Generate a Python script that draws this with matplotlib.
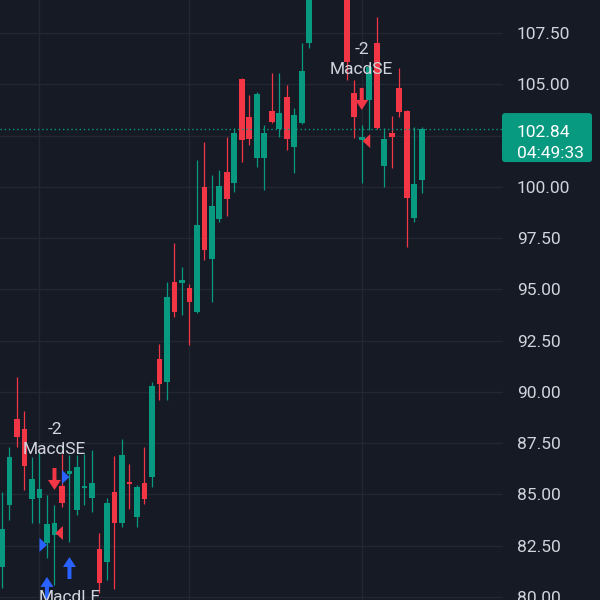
import matplotlib
matplotlib.use("Agg")
import matplotlib.pyplot as plt
from matplotlib.patches import Polygon, FancyBboxPatch
from matplotlib.transforms import Affine2D, ScaledTranslation, blended_transform_factory

# ---- OHLC series (one bar per session) ----
opens = [81.46, 84.49, 88.68, 88.19, 84.78, 84.83, 82.63, 83.02, 85.41, 86.00,
         84.24, 85.31, 84.83, 82.34, 81.71, 85.12, 83.61, 85.61, 83.90, 85.56,
         85.85, 91.60, 90.48, 95.36, 95.31, 95.07, 93.90, 99.99, 96.48, 98.43,
         100.72, 100.19, 105.26, 103.40, 101.41, 101.41, 103.70, 102.82, 104.38, 101.94,
         103.11, 107.01, 109.60, 110.20, 109.90, 110.40, 109.80, 104.57, 102.28, 104.23,
         107.01, 101.02, 102.62, 104.82, 103.70, 98.48, 100.33]
highs = [85.12, 87.31, 90.73, 89.07, 86.83, 87.07, 84.97, 84.49, 86.97, 86.92,
         86.92, 86.97, 87.17, 83.12, 84.83, 86.88, 87.70, 86.49, 85.46, 87.31,
         90.48, 92.34, 95.36, 97.26, 96.09, 95.26, 101.31, 102.19, 100.58, 100.82,
         102.43, 102.87, 105.30, 104.48, 104.62, 103.01, 105.55, 105.55, 104.96, 103.84,
         107.01, 109.90, 110.50, 110.90, 110.60, 110.70, 110.10, 105.21, 103.01, 105.94,
         108.28, 102.87, 103.45, 105.79, 103.75, 102.92, 102.90]
lows = [80.44, 83.75, 87.31, 85.22, 83.61, 83.61, 81.90, 80.59, 84.39, 82.68,
        84.00, 84.49, 84.14, 80.20, 80.83, 80.39, 83.41, 84.29, 83.41, 84.53,
        85.36, 89.61, 89.61, 93.65, 93.75, 92.29, 93.85, 96.43, 94.38, 98.28,
        98.58, 99.75, 101.21, 102.04, 100.97, 99.84, 103.11, 102.43, 101.80, 100.67,
        103.05, 106.77, 109.30, 109.70, 109.40, 109.50, 105.21, 102.38, 100.19, 102.77,
        102.84, 99.99, 100.92, 103.40, 97.07, 98.28, 99.70]
closes = [83.32, 86.83, 87.80, 86.39, 85.75, 85.27, 83.56, 83.61, 84.58, 86.14,
          86.34, 85.41, 85.56, 80.68, 84.58, 83.61, 86.92, 85.51, 85.36, 84.78,
          90.29, 90.39, 94.63, 93.90, 95.46, 94.38, 98.14, 96.92, 99.06, 100.04,
          99.41, 102.62, 102.28, 102.33, 104.53, 102.62, 103.16, 103.60, 102.33, 103.50,
          105.65, 109.60, 110.20, 109.90, 110.40, 109.80, 106.09, 103.40, 102.43, 105.84,
          102.87, 102.33, 102.43, 103.65, 99.45, 100.14, 102.84]

# ---- strategy signals ----
short_entry_idx = [7, 48]
short_entry_price = [85.22, 103.75]
long_entry_idx = [9, 6]
long_entry_price = [81.95, 80.98]
long_exit_idx = [5, 8]
long_exit_price = [82.54, 85.85]
short_exit_idx = [7, 48]
short_exit_price = [83.12, 102.23]

price_ticks = [80.0, 82.5, 85.0, 87.5, 90.0, 92.5, 95.0, 97.5, 100.0, 102.5, 105.0, 107.5]
time_gridlines = [5, 25, 48]
countdown = "04:49:33"

BG = "#161a25"
GRID = "#232733"
UP = "#089981"
DOWN = "#f23645"
BLUE = "#2962ff"
TEXT = "#d1d4dc"
FS = 12.5

plt.rcParams["font.family"] = ["Roboto", "DejaVu Sans"]

fig = plt.figure(figsize=(6, 6), dpi=100, facecolor=BG)
ax = fig.add_axes([0, 0, 503 / 600, 1])
ax.set_facecolor(BG)
ax.set_axisbelow(True)

n = len(closes)
xs = list(range(n))
colors = [UP if c >= o else DOWN for o, c in zip(opens, closes)]
bottoms = [min(o, c) for o, c in zip(opens, closes)]
heights = [max(abs(c - o), 0.06) for o, c in zip(opens, closes)]

ax.vlines(xs, lows, highs, colors=colors, linewidth=0.9, zorder=3)
ax.bar(xs, heights, bottom=bottoms, width=0.76, color=colors, linewidth=0, zorder=4)

last = closes[-1]
ax.axhline(last, color=UP, linestyle=(0, (1, 2)), linewidth=1, zorder=5)

# grid & price scale; the scale label under the last-price tag stays hidden
ax.set_yticks(price_ticks)
ax.set_yticklabels(["" if abs(v - last) < 1.0 else f"{v:.2f}" for v in price_ticks])
ax.set_xticks(time_gridlines)
ax.set_xticklabels([])
ax.grid(True, color=GRID, linewidth=1)
ax.yaxis.tick_right()
ax.tick_params(axis="y", length=0, pad=10, labelsize=FS, labelcolor=TEXT)
ax.tick_params(axis="x", length=0)
for s in ax.spines.values():
    s.set_visible(False)


def shape(xi, price, verts, color):
    tr = Affine2D() + ScaledTranslation(xi, price, ax.transData)
    ax.add_artist(Polygon(verts, closed=True, transform=tr, fc=color, ec="none",
                          zorder=7, clip_on=False))


down_arrow = [(0, 0), (-6.5, 10), (-2, 10), (-2, 22), (2, 22), (2, 10), (6.5, 10)]
up_arrow = [(vx, -vy) for vx, vy in down_arrow]
right_tri = [(0, -7), (0, 7), (7.5, 0)]
left_tri = [(1, 0), (8.5, 7), (8.5, -7)]

for i, p in zip(short_entry_idx, short_entry_price):
    shape(i, p, down_arrow, DOWN)
    ax.annotate("-2", xy=(i, p), xytext=(0, 56 * 0.72), textcoords="offset points",
                ha="center", va="baseline", fontsize=FS, color=TEXT, zorder=8,
                annotation_clip=False)
    ax.annotate("MacdSE", xy=(i, p), xytext=(0, 36 * 0.72), textcoords="offset points",
                ha="center", va="baseline", fontsize=FS, color=TEXT, zorder=8,
                annotation_clip=False)

for i, p in zip(long_entry_idx, long_entry_price):
    shape(i, p, up_arrow, BLUE)
ax.annotate("MacdLE", xy=(long_entry_idx[0], long_entry_price[0]),
            xytext=(0, -45 * 0.72), textcoords="offset points",
            ha="center", va="baseline", fontsize=FS, color=TEXT, zorder=8,
            annotation_clip=False)

for i, p in zip(long_exit_idx, long_exit_price):
    shape(i, p, right_tri, BLUE)
for i, p in zip(short_exit_idx, short_exit_price):
    shape(i, p, left_tri, DOWN)

# last-price tag on the price scale
blend = blended_transform_factory(fig.transFigure, ax.transData)
tag_tr = Affine2D() + ScaledTranslation(0, last, blend)
ax.add_artist(FancyBboxPatch((502, -33.5), 90, 49, boxstyle="round,pad=0,rounding_size=3",
                             transform=tag_tr, fc=UP, ec="none", zorder=9, clip_on=False))
ax.annotate(f"{last:.2f}", xy=(517 / 600, last), xycoords=("figure fraction", "data"),
            xytext=(0, -8.5 * 0.72), textcoords="offset points", ha="left", va="baseline",
            fontsize=FS, color="white", zorder=10, annotation_clip=False)
ax.annotate(countdown, xy=(517 / 600, last), xycoords=("figure fraction", "data"),
            xytext=(0, -29.5 * 0.72), textcoords="offset points", ha="left", va="baseline",
            fontsize=FS, color="white", zorder=10, annotation_clip=False)

ax.set_xlim(-0.267, 66.85)
ax.set_ylim(79.854, 109.109)

fig.savefig("out.png", dpi=100, facecolor=BG)
